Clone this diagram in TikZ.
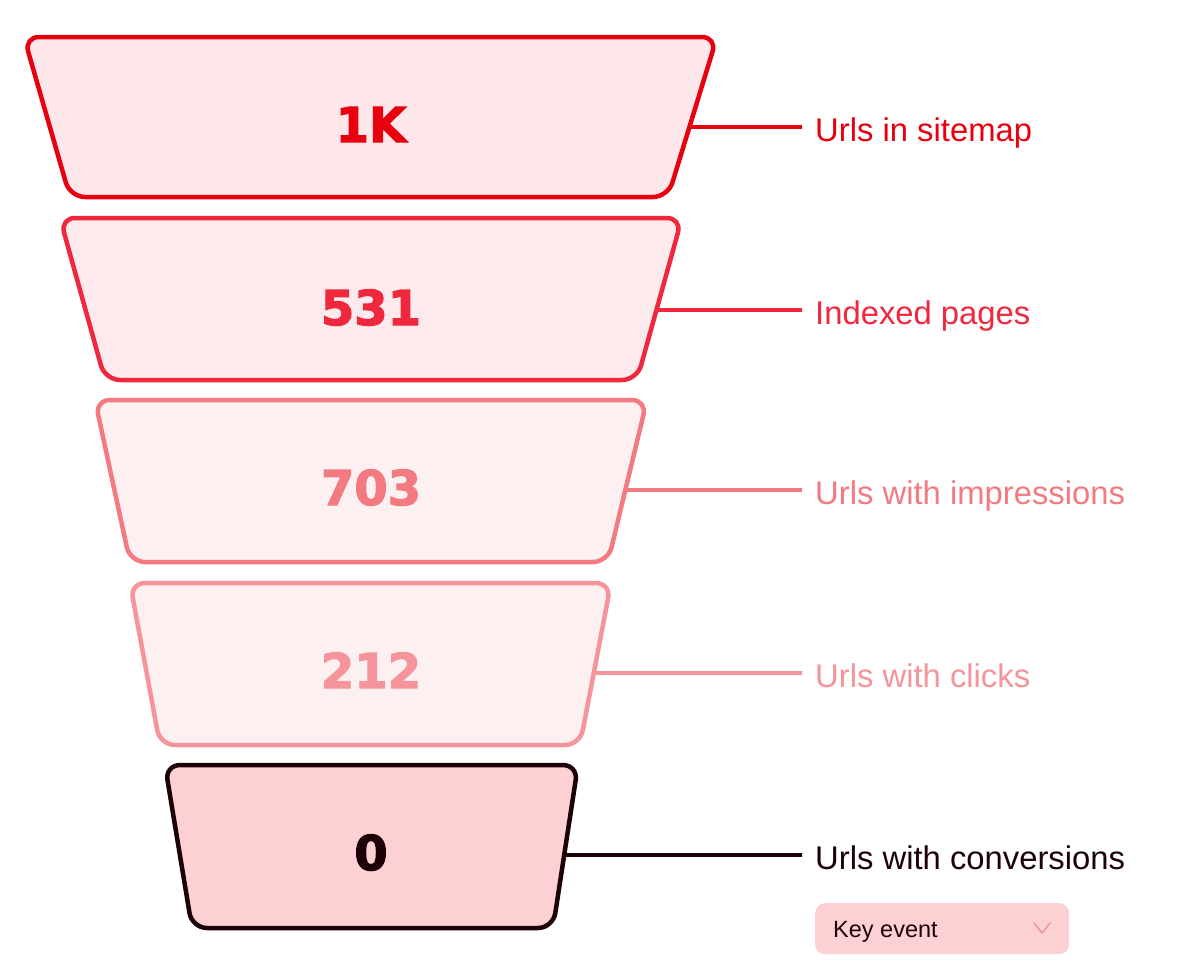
\documentclass[tikz,border=0pt]{standalone}
\usepackage{fontspec}
\setmainfont{Liberation Sans}
\newfontfamily\numfont[FakeBold=2.5]{DejaVu Sans}
\usetikzlibrary{calc}
\definecolor{cA}{HTML}{E8000F}
\definecolor{cB}{HTML}{F0283E}
\definecolor{cC}{HTML}{F47A82}
\definecolor{cD}{HTML}{F5949A}
\definecolor{cE}{HTML}{1C0206}
\definecolor{fA}{HTML}{FDE7EA}
\definecolor{fB}{HTML}{FDEAEC}
\definecolor{fC}{HTML}{FDF0F1}
\definecolor{fD}{HTML}{FDF0F1}
\definecolor{fE}{HTML}{FDD0D4}
\definecolor{chev}{HTML}{F0959B}
\tikzset{
  stage/.style={line width=4.5pt, rounded corners=15pt, line join=round},
  value/.style={font=\numfont\bfseries\fontsize{48}{50}\selectfont, anchor=base, inner sep=0pt},
  link/.style={line width=3.6pt},
  label/.style={font=\fontsize{32.8}{36}\selectfont, anchor=base west, inner sep=0pt},
}
% #1 name, #2 stroke, #3 fill, #4 ytop, #5 ybot, #6 xtl, #7 xtr, #8 xbl, #9 xbr
\newcommand\funnelstage[9]{%
  \coordinate (#1tl) at (#6,#4);
  \coordinate (#1tr) at (#7,#4);
  \coordinate (#1bl) at (#8,#5);
  \coordinate (#1br) at (#9,#5);
  \draw[stage, draw=#2, fill=#3] (#1tl) -- (#1tr) -- (#1br) -- (#1bl) -- cycle;
}
% #1 name, #2 color, #3 y of line, #4 ytop, #5 ybot, #6 value, #7 label text
\newcommand\stagetext[7]{%
  \coordinate (#1e) at ($(#1tr)!{(#3-#4)/(#5-#4)}!(#1br)$);
  \node[value, text=#2] (#1v) at (371,#3+15) {#6};
  \coordinate (#1l) at (802,#3);
  \draw[link, draw=#2] (#1e) -- (#1l);
  \node[label, text=#2] (#1t) at (815,#3+14) {#7};
}
\begin{document}
\begin{tikzpicture}[x=1pt,y=-1pt]
\useasboundingbox[fill=white] (0,0) rectangle (1200,978);
\funnelstage{a}{cA}{fA}{37}{197}{24}{717}{70}{668}
\stagetext{a}{cA}{127}{37}{197}{1K}{Urls in sitemap}
\funnelstage{b}{cB}{fB}{218}{380}{60}{682}{105}{637}
\stagetext{b}{cB}{310}{218}{380}{531}{Indexed pages}
\funnelstage{c}{cC}{fC}{400}{562}{95}{647}{130}{608}
\stagetext{c}{cC}{490}{400}{562}{703}{Urls with impressions}
\funnelstage{d}{cD}{fD}{583}{745}{130}{611}{160}{580}
\stagetext{d}{cD}{673}{583}{745}{212}{Urls with clicks}
\funnelstage{e}{cE}{fE}{765}{928}{165}{578}{192}{553}
\stagetext{e}{cE}{855}{765}{928}{0}{Urls with conversions}
% Key event dropdown
\node[fill=fE, rounded corners=10pt, minimum width=254pt, minimum height=51pt, anchor=north west, inner sep=0pt] (key) at (815,903) {};
\node[font=\fontsize{23.5}{26}\selectfont, anchor=base west, inner sep=0pt, text=cE] (keyt) at (833,937) {Key event};
\coordinate (chl) at (1034,923);
\coordinate (chm) at (1042,933);
\coordinate (chr) at (1050,923);
\draw[chev, line width=1.5pt, line cap=round, line join=round] (chl) -- (chm) -- (chr);
\end{tikzpicture}
\end{document}
